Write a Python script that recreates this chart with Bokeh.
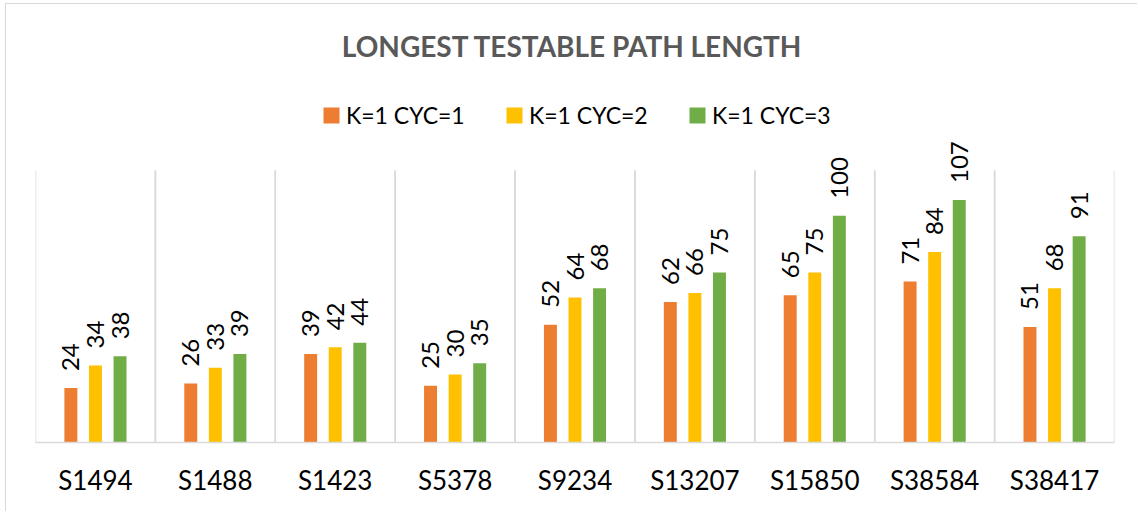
from bokeh.plotting import figure
from bokeh.models import (ColumnDataSource, FactorRange, Range1d, Legend, LegendItem,
                          Label)
from bokeh.transform import dodge
from bokeh.core.properties import value
from bokeh.embed import file_html
from bokeh.resources import INLINE
import math

circuits = ["S1494", "S1488", "S1423", "S5378", "S9234", "S13207", "S15850", "S38584", "S38417"]
cyc1 = [24, 26, 39, 25, 52, 62, 65, 71, 51]
cyc2 = [34, 33, 42, 30, 64, 66, 75, 84, 68]
cyc3 = [38, 39, 44, 35, 68, 75, 100, 107, 91]
series_names = ["K=1 CYC=1", "K=1 CYC=2", "K=1 CYC=3"]
colors = ["#ED7D31", "#FFC000", "#70AD47"]
title_text = "LONGEST TESTABLE PATH LENGTH"
y_max = 120

FONT = "Lato"
W, H = 1132, 508
BORDER_BOTTOM = 70
PLOT_AREA_PX = 272  # pixel height of the 0..y_max value area
frame_h = H - BORDER_BOTTOM
y_top = y_max * frame_h / PLOT_AREA_PX

source = ColumnDataSource(data=dict(cat=circuits, s1=cyc1, s2=cyc2, s3=cyc3,
                                    base=[0] * len(circuits), top=[y_max] * len(circuits)))

p = figure(width=W, height=H, x_range=FactorRange(factors=circuits, range_padding=0),
           y_range=Range1d(0, y_top), output_backend="svg", toolbar_location=None,
           min_border_left=29, min_border_right=24, min_border_top=0,
           min_border_bottom=BORDER_BOTTOM)
p.outline_line_color = None
p.background_fill_color = "white"
p.border_fill_color = "white"
p.yaxis.visible = False
p.ygrid.visible = False
p.xgrid.visible = False

# category separators (gridlines) from 0 to y_max
grid_kw = dict(line_color="#d9d9d9", line_width=1.5, source=source)
p.segment(x0=dodge("cat", -0.5, range=p.x_range), y0="base",
          x1=dodge("cat", -0.5, range=p.x_range), y1="top", **grid_kw)
p.segment(x0=dodge("cat", 0.5, range=p.x_range), y0="base",
          x1=dodge("cat", 0.5, range=p.x_range), y1="top", **grid_kw)

ax = p.xaxis[0]
ax.axis_line_color = "#d9d9d9"
ax.axis_line_width = 1.5
ax.major_tick_line_color = None
ax.minor_tick_line_color = None
ax.major_label_text_font = FONT
ax.major_label_text_font_size = "26px"
ax.major_label_text_color = "#000000"
ax.major_label_standoff = 15

offsets = [-0.205, 0.0, 0.205]
cols = ["s1", "s2", "s3"]
items = []
for col, off, color, name in zip(cols, offsets, colors, series_names):
    r = p.vbar(x=dodge("cat", off, range=p.x_range), top=col, width=0.108, source=source,
               fill_color=color, line_color=None)
    p.text(x=dodge("cat", off, range=p.x_range), y=col, text=col, source=source,
           angle=math.pi / 2, text_align="left", text_baseline="middle", y_offset=-17,
           text_font=value(FONT), text_font_size="24px", text_color="#000000")
    items.append(LegendItem(label=name, renderers=[r]))

legend = Legend(items=items, orientation="horizontal", location=(286, 313),
                padding=0, margin=0, spacing=34, label_standoff=5,
                glyph_width=20, glyph_height=20, label_height=20, label_width=124,
                label_text_font=FONT, label_text_font_size="23px", label_text_color="#000000",
                label_text_baseline="middle",
                border_line_color=None, background_fill_alpha=0)
p.add_layout(legend, "center")

title = Label(x=537, y=397, x_units="screen", y_units="screen", text=title_text,
              text_align="center", text_baseline="middle", text_font=FONT,
              text_font_style="bold", text_font_size="28px", text_color="#595959")
p.add_layout(title)

p.styles = {"border-left": "1px solid #d9d9d9", "border-top": "1px solid #d9d9d9",
            "margin-left": "5px", "margin-top": "3px"}

open("out.html", "w").write(file_html(p, INLINE))
